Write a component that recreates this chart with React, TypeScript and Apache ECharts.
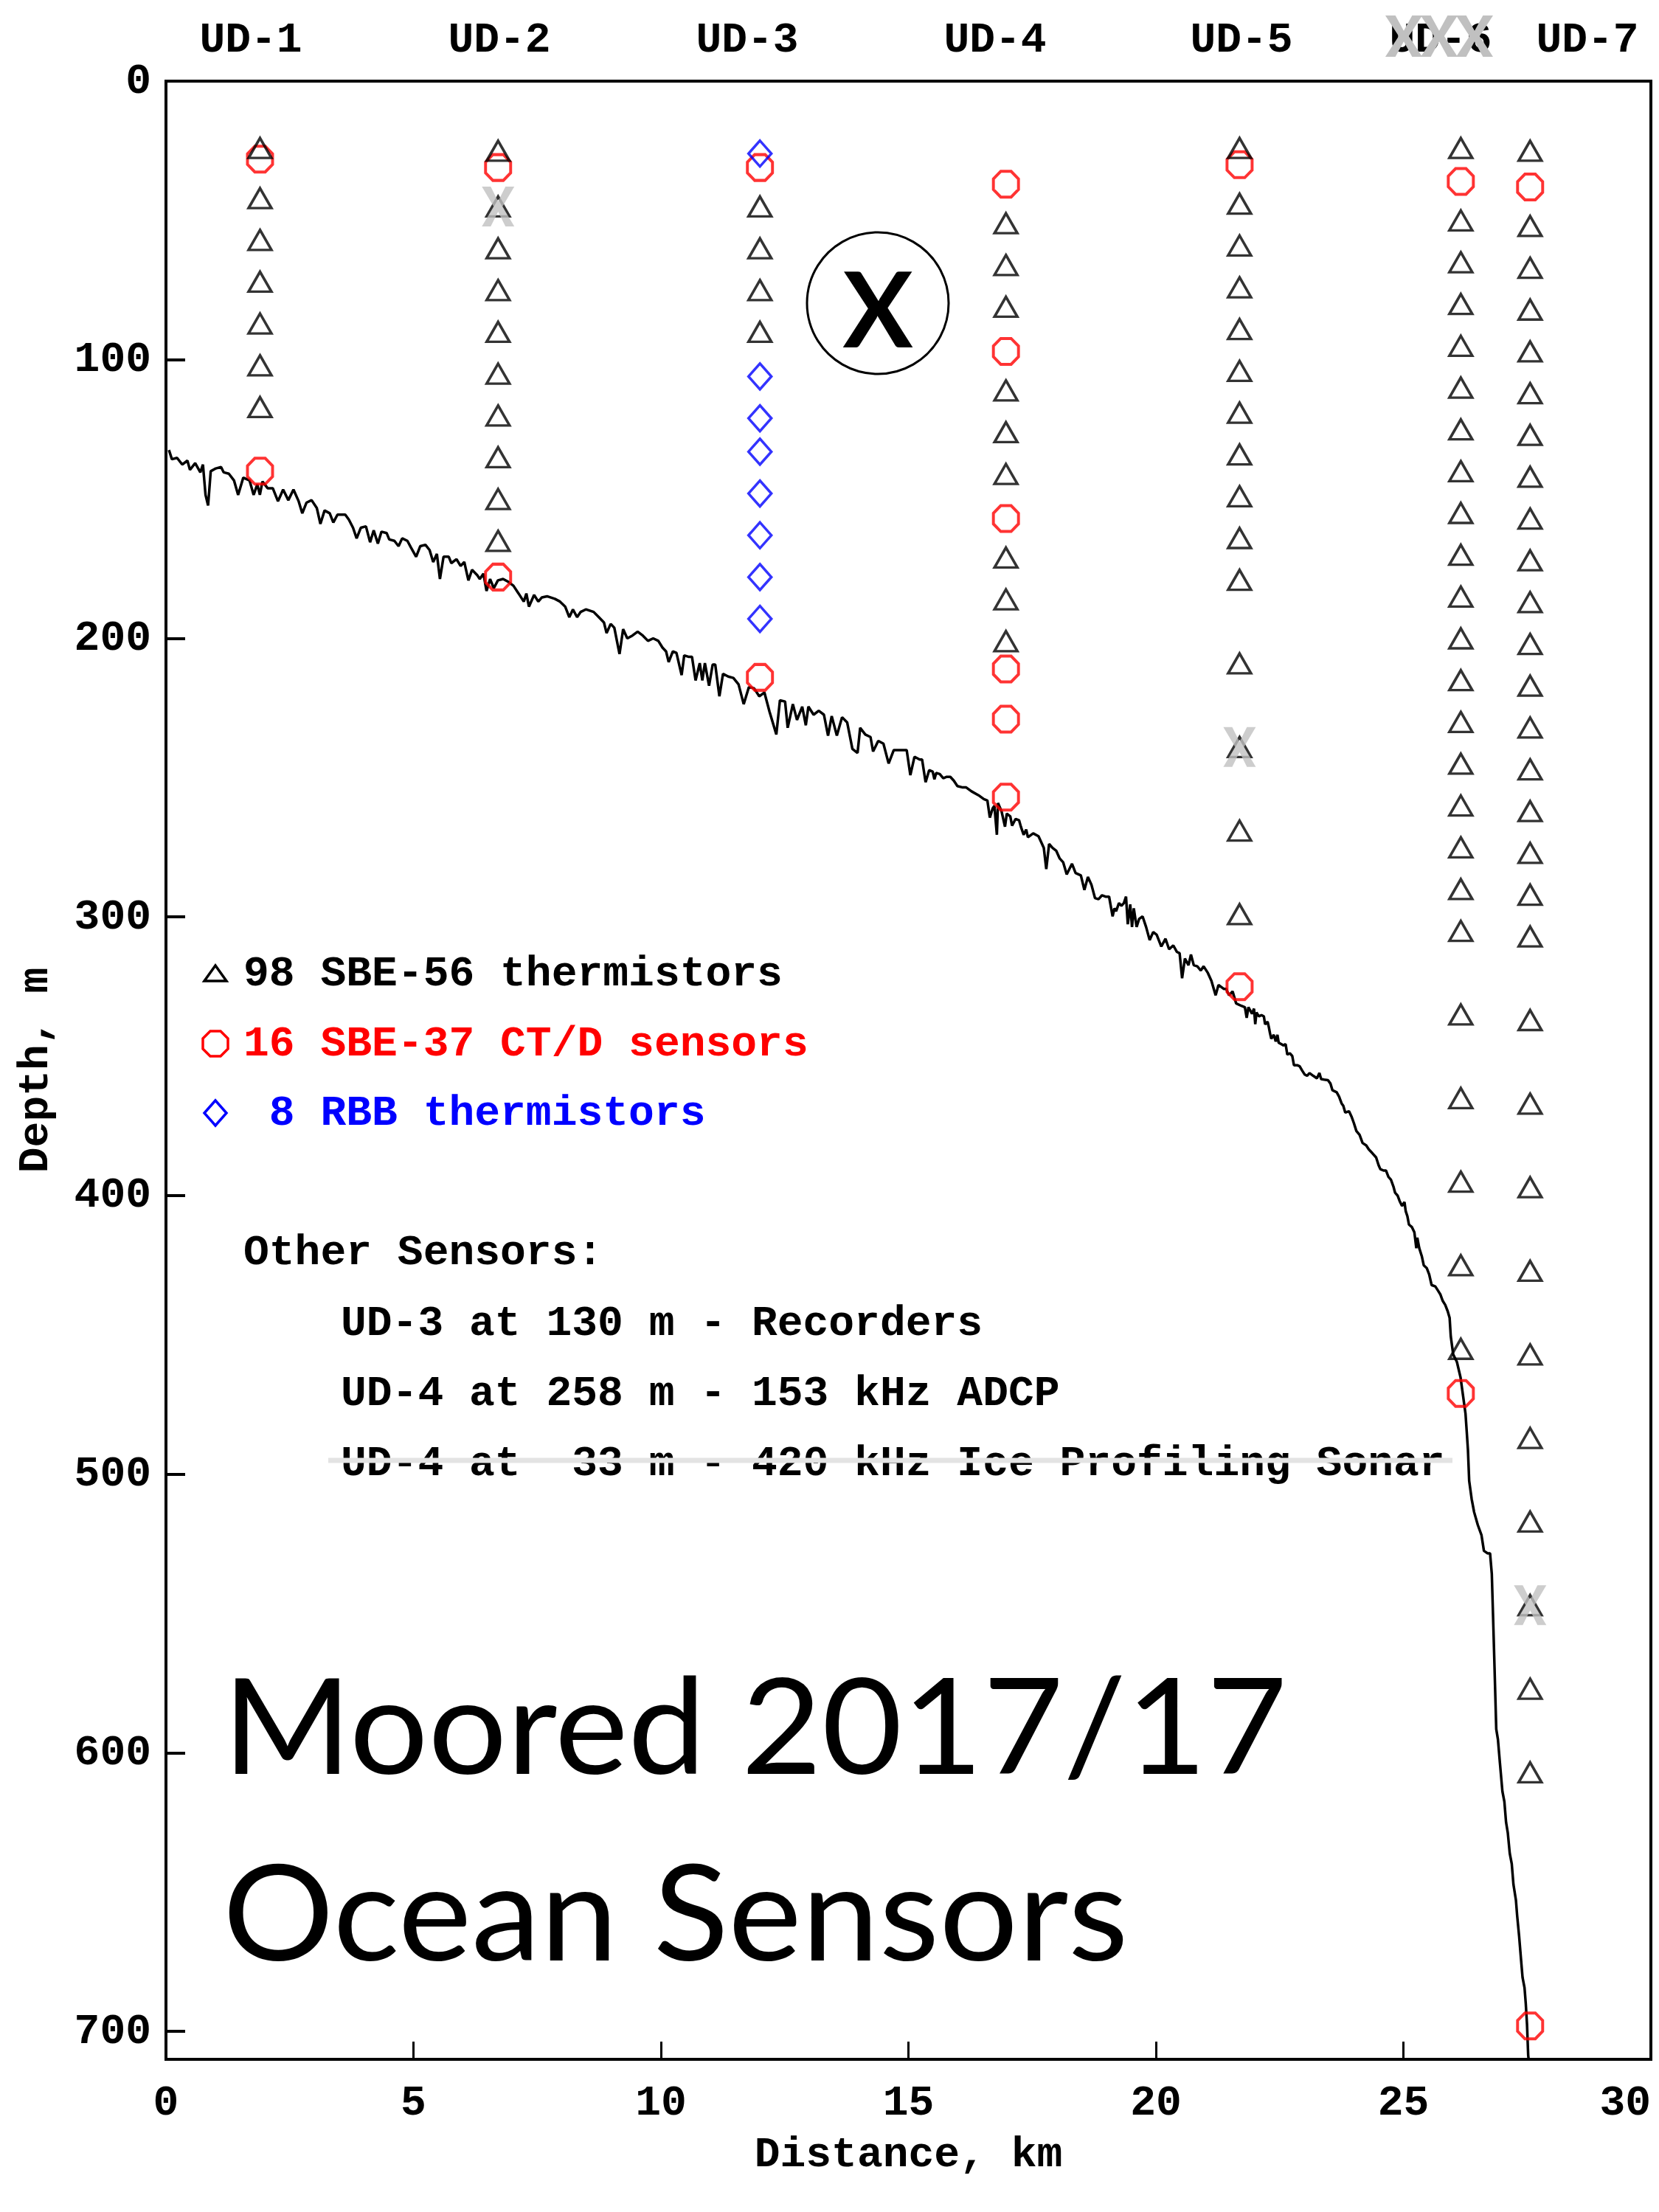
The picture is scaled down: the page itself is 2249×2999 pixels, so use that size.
import React, { useEffect, useRef } from "react";
import * as echarts from "echarts";

// ---------------- DATA ----------------
const mooringNames = ["UD-1", "UD-2", "UD-3", "UD-4", "UD-5", "UD-6", "UD-7"];
const mooringKm = [1.9, 6.71, 12.0, 16.97, 21.69, 26.16, 27.56];

// SBE-56 thermistor depths (m) per mooring
const thermistorDepths = [
  [24, 42, 57, 72, 87, 102, 117],
  [25, 45, 60, 75, 90, 105, 120, 135, 150, 165],
  [45, 60, 75, 90],
  [51, 66, 81, 111, 126, 141, 171, 186, 201],
  [24, 44, 59, 74, 89, 104, 119, 134, 149, 164, 179, 209, 239, 269, 299],
  [24, 50, 65, 80, 95, 110, 125, 140, 155, 170, 185, 200, 215, 230, 245, 260, 275, 290, 305, 335, 365, 395, 425, 455],
  [25, 52, 67, 82, 97, 112, 127, 142, 157, 172, 187, 202, 217, 232, 247, 262, 277, 292, 307, 337, 367, 397, 427, 457, 487, 517, 547, 577, 607],
];
// SBE-37 CT/D sensor depths (m)
const ctdDepths = [
  [28, 140],
  [31, 178],
  [31, 214],
  [37, 97, 157, 211, 229, 257],
  [30, 325],
  [36, 471],
  [38, 698],
];
// RBB thermistor depths (m)
const rbbDepths = [[], [], [26, 106, 121, 133, 148, 163, 178, 193], [], [], [], []];
// failed instruments (grey X)
const failedDepths = [[], [45], [], [], [239], [], [547]];

const distanceTicks = [0, 5, 10, 15, 20, 25, 30];
const depthTicks = [0, 100, 200, 300, 400, 500, 600, 700];

const legendLabels = ["98 SBE-56 thermistors", "16 SBE-37 CT/D sensors", " 8 RBB thermistors"];
const otherSensorsTitle = "Other Sensors:";
const otherSensorLines = [
  "UD-3 at 130 m - Recorders",
  "UD-4 at 258 m - 153 kHz ADCP",
  "UD-4 at  33 m - 420 kHz Ice Profiling Sonar",
];
const titleLines = ["Moored 2017/17", "Ocean Sensors"];

// bottom profile [distance km, depth m]
const bathymetryProfile = [
  [0.06, 132.4], [0.12, 135.7], [0.224, 135.2], [0.328, 137.6], [0.433, 136.2], [0.485, 139.5], [0.59, 137.1],
  [0.694, 140.4], [0.747, 137.6], [0.799, 148.5], [0.851, 152.3], [0.904, 140.0], [1.008, 139.0], [1.113, 138.5],
  [1.165, 140.4], [1.27, 140.9], [1.374, 143.3], [1.458, 148.5], [1.562, 142.3], [1.688, 143.3], [1.771, 148.5],
  [1.845, 144.7], [1.897, 148.5], [1.949, 143.7], [2.054, 146.1], [2.158, 146.1], [2.263, 150.8], [2.367, 146.6],
  [2.472, 150.4], [2.576, 146.6], [2.681, 150.8], [2.754, 155.1], [2.838, 151.3], [2.942, 150.4], [3.047, 153.2],
  [3.12, 158.9], [3.204, 154.1], [3.308, 155.1], [3.381, 158.4], [3.465, 155.6], [3.622, 155.6], [3.695, 157.4],
  [3.779, 160.3], [3.852, 164.1], [3.936, 160.3], [4.04, 159.8], [4.124, 165.5], [4.197, 161.2], [4.281, 166.0],
  [4.354, 161.7], [4.458, 162.2], [4.511, 164.5], [4.615, 165.0], [4.699, 166.9], [4.772, 164.1], [4.877, 165.0],
  [4.95, 167.4], [5.054, 170.7], [5.138, 166.9], [5.242, 166.4], [5.326, 168.3], [5.399, 172.6], [5.473, 169.7],
  [5.535, 178.7], [5.608, 170.7], [5.713, 170.7], [5.765, 173.0], [5.87, 171.6], [5.953, 174.0], [6.027, 172.6],
  [6.11, 179.2], [6.183, 175.4], [6.288, 177.3], [6.34, 178.7], [6.414, 176.8], [6.476, 183.0], [6.549, 178.7],
  [6.623, 182.0], [6.706, 179.2], [6.811, 178.7], [6.915, 179.7], [7.02, 181.1], [7.124, 183.9], [7.229, 186.8],
  [7.281, 183.9], [7.333, 188.6], [7.438, 184.4], [7.522, 186.8], [7.595, 185.3], [7.699, 184.9], [7.856, 185.8],
  [7.961, 186.8], [8.065, 188.6], [8.149, 192.4], [8.222, 189.6], [8.306, 192.4], [8.379, 190.5], [8.483, 189.6],
  [8.64, 190.5], [8.745, 192.4], [8.849, 194.3], [8.902, 198.1], [8.985, 194.8], [9.058, 196.2], [9.163, 205.6],
  [9.236, 196.7], [9.32, 200.0], [9.424, 199.0], [9.529, 197.6], [9.633, 199.0], [9.738, 200.9], [9.843, 200.0],
  [9.947, 200.9], [10.031, 203.3], [10.104, 204.7], [10.156, 208.5], [10.24, 204.7], [10.313, 205.2], [10.418, 213.2],
  [10.47, 206.1], [10.554, 206.6], [10.627, 206.6], [10.7, 215.1], [10.784, 208.9], [10.836, 215.1], [10.888, 208.9],
  [10.972, 217.0], [11.045, 209.4], [11.097, 209.4], [11.181, 220.8], [11.254, 212.7], [11.359, 213.7], [11.463, 214.2],
  [11.568, 216.5], [11.672, 223.6], [11.777, 217.5], [11.881, 217.9], [11.986, 220.8], [12.09, 219.4], [12.195, 226.4],
  [12.331, 234.5], [12.404, 222.2], [12.508, 222.7], [12.561, 232.1], [12.665, 223.6], [12.749, 229.3], [12.854, 224.5],
  [12.927, 231.2], [12.979, 224.5], [13.084, 227.4], [13.188, 226.0], [13.293, 227.4], [13.376, 234.9], [13.45, 227.9],
  [13.554, 234.9], [13.659, 228.3], [13.763, 230.2], [13.868, 239.7], [13.972, 241.1], [14.025, 232.1], [14.129, 234.5],
  [14.234, 235.4], [14.286, 240.6], [14.39, 236.8], [14.495, 237.8], [14.6, 244.9], [14.704, 240.1], [14.861, 240.1],
  [14.965, 240.1], [15.039, 249.1], [15.122, 242.5], [15.227, 243.5], [15.276, 243.5], [15.347, 251.6], [15.419, 247.3],
  [15.49, 247.8], [15.525, 250.6], [15.561, 248.3], [15.632, 248.7], [15.704, 250.2], [15.775, 249.7], [15.846, 249.7],
  [15.918, 251.1], [15.989, 253.0], [16.096, 253.5], [16.167, 253.5], [16.274, 254.9], [16.416, 256.3], [16.523, 257.7],
  [16.595, 258.2], [16.645, 264.3], [16.702, 261.0], [16.737, 260.1], [16.787, 270.5], [16.809, 259.1], [16.88, 262.0],
  [16.951, 267.6], [16.987, 262.9], [17.058, 263.9], [17.094, 267.2], [17.165, 264.8], [17.236, 265.3], [17.272, 267.6],
  [17.329, 270.5], [17.379, 268.6], [17.414, 271.4], [17.521, 270.0], [17.628, 271.0], [17.735, 275.2], [17.785, 282.8],
  [17.842, 273.8], [17.913, 275.2], [17.985, 276.2], [18.056, 279.0], [18.127, 280.4], [18.198, 284.7], [18.305, 280.9],
  [18.377, 284.2], [18.484, 285.1], [18.555, 290.3], [18.626, 285.6], [18.697, 288.4], [18.769, 293.2], [18.84, 293.6],
  [18.911, 292.2], [18.983, 292.7], [19.054, 292.7], [19.125, 299.8], [19.161, 296.9], [19.196, 297.9], [19.253, 295.0],
  [19.303, 296.0], [19.353, 295.0], [19.396, 292.7], [19.432, 302.6], [19.481, 295.5], [19.517, 303.6], [19.553, 296.9],
  [19.61, 303.6], [19.66, 300.7], [19.731, 299.8], [19.802, 303.6], [19.874, 308.3], [19.945, 305.4], [20.016, 306.4],
  [20.109, 310.6], [20.194, 307.8], [20.266, 311.6], [20.351, 310.2], [20.422, 312.5], [20.479, 313.0], [20.529, 322.0],
  [20.586, 314.9], [20.658, 317.3], [20.708, 313.5], [20.765, 317.3], [20.836, 317.7], [20.907, 319.2], [20.964, 317.7],
  [21.05, 320.1], [21.121, 322.9], [21.207, 328.1], [21.264, 324.4], [21.37, 325.8], [21.42, 325.8], [21.477, 328.1],
  [21.549, 326.7], [21.62, 331.0], [21.727, 331.9], [21.798, 332.4], [21.834, 336.2], [21.869, 332.4], [21.941, 334.7],
  [21.982, 332.9], [22.007, 338.5], [22.032, 334.3], [22.082, 335.7], [22.132, 335.2], [22.181, 335.7], [22.206, 338.5],
  [22.256, 337.6], [22.281, 339.5], [22.306, 341.8], [22.331, 343.7], [22.381, 342.3], [22.421, 344.7], [22.455, 342.3],
  [22.48, 345.1], [22.53, 345.6], [22.58, 346.1], [22.62, 345.6], [22.655, 349.4], [22.705, 348.9], [22.755, 349.9],
  [22.789, 353.2], [22.854, 353.2], [22.904, 353.6], [22.954, 355.1], [23.004, 356.5], [23.054, 357.0], [23.103, 356.0],
  [23.178, 357.0], [23.253, 357.9], [23.303, 356.0], [23.338, 358.2], [23.402, 358.4], [23.477, 358.6], [23.527, 359.8],
  [23.567, 362.2], [23.652, 362.9], [23.701, 364.5], [23.751, 366.9], [23.786, 367.8], [23.826, 370.2], [23.901, 369.7],
  [23.951, 371.6], [24.0, 374.0], [24.05, 376.8], [24.115, 378.2], [24.175, 381.1], [24.25, 382.0], [24.3, 383.4],
  [24.374, 384.8], [24.449, 386.3], [24.499, 389.1], [24.534, 390.5], [24.599, 391.0], [24.648, 391.0], [24.698, 393.3],
  [24.748, 394.3], [24.798, 396.7], [24.833, 399.0], [24.883, 400.0], [24.923, 401.9], [24.972, 403.7], [25.022, 402.3],
  [25.047, 405.6], [25.082, 407.5], [25.112, 410.4], [25.172, 411.3], [25.222, 413.2], [25.261, 418.9], [25.281, 415.1],
  [25.321, 418.9], [25.371, 421.7], [25.411, 425.0], [25.471, 426.0], [25.521, 428.3], [25.57, 432.1], [25.645, 432.6],
  [25.695, 434.0], [25.745, 435.4], [25.795, 437.8], [25.845, 439.2], [25.895, 441.5], [25.934, 443.9], [25.957, 450.5],
  [26.006, 457.0], [26.081, 459.7], [26.155, 465.3], [26.205, 471.8], [26.255, 478.3], [26.28, 484.8], [26.304, 491.3],
  [26.329, 502.4], [26.379, 508.9], [26.429, 513.6], [26.503, 518.2], [26.578, 521.9], [26.627, 527.5], [26.702, 528.4],
  [26.751, 528.4], [26.786, 535.8], [26.811, 550.7], [26.841, 569.3], [26.876, 591.5], [26.91, 595.2], [26.95, 603.6],
  [27.0, 613.8], [27.04, 617.5], [27.074, 624.9], [27.109, 628.7], [27.149, 636.1], [27.189, 639.8], [27.223, 647.2],
  [27.273, 652.8], [27.298, 658.4], [27.338, 665.8], [27.372, 673.2], [27.407, 680.6], [27.447, 684.3], [27.472, 689.9],
  [27.497, 697.3], [27.521, 708.5], [27.53, 710.0],
];

// ---------------- STYLE ----------------
const W = 2249;
const H = 2999;
const MONO = '"Liberation Mono", "DejaVu Sans Mono", monospace';
const FS = 58;
const FW = "bold";
const GREY_X = "#c0c0c0";
const OCTAGON = "path://M29.3,0 L70.7,0 L100,29.3 L100,70.7 L70.7,100 L29.3,100 L0,70.7 L0,29.3 Z";
const XPATH = "path://M0,0 L12,0 L22,20 L32,0 L44,0 L28,27 L44,54 L32,54 L22,34 L12,54 L0,54 L16,27 Z";
const X_TEMPLATE = [[0, 0], [12, 0], [22, 20], [32, 0], [44, 0], [28, 27], [44, 54], [32, 54], [22, 34], [12, 54], [0, 54], [16, 27]];

const toPoints = (values: number[][], i: number) => values[i].map((d) => [mooringKm[i], d]);
const flat = (values: number[][]) => mooringKm.flatMap((_, i) => toPoints(values, i));

function txt(text: string, x: number, y: number, color = "#000", align = "left", extra: any = {}) {
  return {
    type: "text",
    x,
    y,
    z: 10,
    style: {
      text,
      fill: color,
      fontSize: FS,
      fontFamily: MONO,
      fontWeight: FW,
      align,
      textAlign: align,
      verticalAlign: "middle",
      textVerticalAlign: "middle",
      ...extra,
    },
  };
}

function greyX(cx: number, cy: number, w: number, h: number) {
  return {
    type: "polygon",
    z: 11,
    shape: { points: X_TEMPLATE.map(([px, py]) => [cx - w / 2 + (px / 44) * w, cy - h / 2 + (py / 54) * h]) },
    style: { fill: GREY_X },
  };
}

function buildOption() {
  const labelX = [340, 677, 1013, 1349, 1683, 1953, 2152];
  const graphic: any[] = [];
  mooringNames.forEach((n, i) => graphic.push(txt(n, labelX[i], 54, "#000", "center")));
  [1903, 1951, 1999].forEach((cx) => graphic.push(greyX(cx, 49, 50, 56)));

  // circled X
  graphic.push({ type: "circle", z: 10, shape: { cx: 1190, cy: 411, r: 96 }, style: { fill: "none", stroke: "#000", lineWidth: 3 } });
  graphic.push({
    type: "text", x: 1190, y: 416, z: 10,
    style: { text: "X", fill: "#000", fontSize: 142, fontFamily: "Lato, 'Open Sans', sans-serif", fontWeight: "bold",
      align: "center", textAlign: "center", verticalAlign: "middle", textVerticalAlign: "middle" },
  });

  // legend
  const lx = 292;
  const ly = [1320, 1415, 1509];
  graphic.push({ type: "polygon", z: 10, shape: { points: [[lx - 15, ly[0] + 10], [lx + 15, ly[0] + 10], [lx, ly[0] - 11]] },
    style: { fill: "none", stroke: "#000", lineWidth: 3.5 } });
  const o = 17, s = 7;
  graphic.push({ type: "polygon", z: 10, shape: { points: [[lx - s, ly[1] - o], [lx + s, ly[1] - o], [lx + o, ly[1] - s], [lx + o, ly[1] + s], [lx + s, ly[1] + o], [lx - s, ly[1] + o], [lx - o, ly[1] + s], [lx - o, ly[1] - s]] },
    style: { fill: "none", stroke: "#ff0000", lineWidth: 3.5 } });
  graphic.push({ type: "polygon", z: 10, shape: { points: [[lx, ly[2] - 17], [lx + 15, ly[2]], [lx, ly[2] + 17], [lx - 15, ly[2]]] },
    style: { fill: "none", stroke: "#0000ff", lineWidth: 3.5 } });
  const legendColors = ["#000", "#ff0000", "#0000ff"];
  legendLabels.forEach((t, i) => graphic.push(txt(t, 330, ly[i], legendColors[i])));

  // other sensors
  graphic.push(txt(otherSensorsTitle, 330, 1698));
  const oy = [1794, 1889, 1984];
  otherSensorLines.forEach((t, i) => graphic.push(txt(t, 462, oy[i])));
  graphic.push({ type: "line", z: 12, shape: { x1: 445, y1: 1980, x2: 1969, y2: 1980 }, style: { stroke: "#e3e3e3", lineWidth: 7 } });

  // title
  titleLines.forEach((t, i) =>
    graphic.push({
      type: "text", x: 302, y: [2335, 2588][i], z: 10, scaleX: 1.04,
      style: { text: t, fill: "#000", fontSize: 181, fontFamily: "Lato, 'Open Sans', sans-serif", fontWeight: "normal",
        align: "left", textAlign: "left", verticalAlign: "middle", textVerticalAlign: "middle" },
    })
  );

  const axisText = { color: "#000", fontSize: FS, fontFamily: MONO, fontWeight: FW };

  return {
    animation: false,
    backgroundColor: "#fff",
    grid: {
      left: 225, top: 110, right: 11, bottom: 207,
      containLabel: false, outerBoundsMode: "none",
      show: true, borderColor: "#000", borderWidth: 4, backgroundColor: "transparent",
    },
    xAxis: {
      type: "value",
      position: "bottom",
      min: 0,
      max: 30,
      interval: 5,
      name: "Distance, km",
      nameLocation: "middle",
      nameGap: 100,
      nameTextStyle: axisText,
      axisLine: { show: true, onZero: false, lineStyle: { color: "#000", width: 4 } },
      axisTick: { show: true, inside: true, length: 24, lineStyle: { color: "#000", width: 3 } },
      axisLabel: {
        ...axisText, margin: 30, alignMaxLabel: "right",
        formatter: (v: number) => (distanceTicks.includes(v) ? String(v) : ""),
      },
      splitLine: { show: false },
    },
    yAxis: {
      type: "value",
      position: "left",
      inverse: true,
      min: 0,
      max: 710,
      interval: 100,
      name: "Depth, m",
      nameLocation: "middle",
      nameGap: 148,
      nameTextStyle: axisText,
      axisLine: { show: true, onZero: false, lineStyle: { color: "#000", width: 4 } },
      axisTick: { show: true, inside: true, length: 26, lineStyle: { color: "#000", width: 4 } },
      axisLabel: { ...axisText, margin: 20, formatter: (v: number) => (depthTicks.includes(v) ? String(v) : "") },
      splitLine: { show: false },
    },
    graphic,
    series: [
      {
        type: "line",
        name: "Bottom depth",
        data: bathymetryProfile,
        showSymbol: false,
        symbol: "none",
        lineStyle: { color: "#000", width: 3.5 },
        silent: true,
        z: 2,
      },
      {
        type: "scatter",
        name: "SBE-37 CT/D sensors",
        data: flat(ctdDepths),
        symbol: OCTAGON,
        symbolSize: [34, 35],
        itemStyle: { color: "rgba(0,0,0,0)", borderColor: "#ff0000", borderWidth: 4 },
        silent: true,
        z: 3,
      },
      {
        type: "scatter",
        name: "SBE-56 thermistors",
        data: flat(thermistorDepths),
        symbol: "triangle",
        symbolSize: [31, 27],
        itemStyle: { color: "rgba(0,0,0,0)", borderColor: "#000", borderWidth: 3.5 },
        silent: true,
        z: 4,
      },
      {
        type: "scatter",
        name: "RBB thermistors",
        data: flat(rbbDepths),
        symbol: "diamond",
        symbolSize: [31, 35],
        itemStyle: { color: "rgba(0,0,0,0)", borderColor: "#0000ff", borderWidth: 3.5 },
        silent: true,
        z: 5,
      },
      {
        type: "scatter",
        name: "Lost",
        data: flat(failedDepths),
        symbol: XPATH,
        symbolSize: [44, 54],
        itemStyle: { color: GREY_X },
        silent: true,
        z: 6,
      },
    ],
  };
}

export default function App() {
  const ref = useRef<HTMLDivElement>(null);
  useEffect(() => {
    if (!ref.current) return;
    const chart = echarts.init(ref.current, null, { renderer: "svg" });
    chart.setOption(buildOption() as any);
    return () => chart.dispose();
  }, []);
  return (
    <div
      ref={ref}
      style={{ position: "absolute", left: 0, top: 0, width: W, height: H, background: "#fff" }}
    />
  );
}
